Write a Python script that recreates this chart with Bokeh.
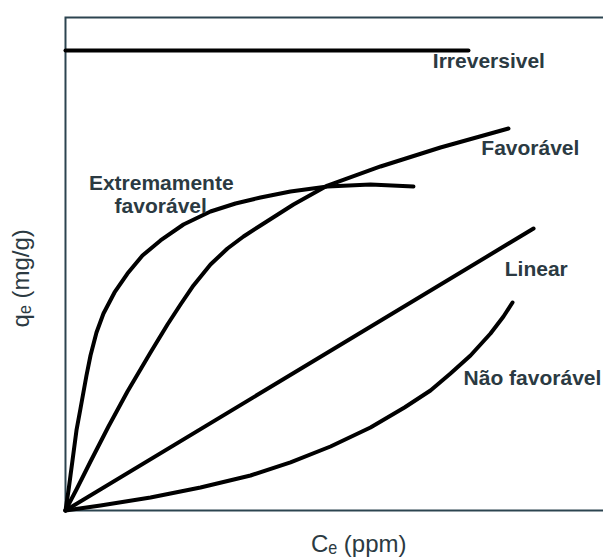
import math
from bokeh.plotting import figure
from bokeh.models import ColumnDataSource, Range1d
from bokeh.core.properties import value
from bokeh.embed import file_html
from bokeh.resources import INLINE

# ---- axis domain (Ce and qe in arbitrary units) ----
x_min, x_max = 0.0, 100.0
y_min, y_max = 0.0, 100.0

# ---- data ----
irrev_x = [0.0, 74.9]
irrev_y = [93.3, 93.3]

ext_x = [0.0, 0.56, 0.93, 1.30, 2.04, 2.79, 3.90, 4.65, 5.76, 7.06, 9.11, 11.52, 14.31,
         17.66, 21.93, 26.95, 31.60, 36.25, 41.82, 48.70, 56.69, 64.68]
ext_y = [0.0, 4.06, 7.10, 10.14, 16.23, 20.69, 27.38, 31.44, 36.11, 39.96, 44.22, 48.07, 51.72,
         54.77, 58.01, 60.65, 62.27, 63.49, 64.71, 65.72, 66.13, 65.72]

fav_x = [0.0, 2.04, 4.65, 7.99, 11.52, 15.80, 18.96, 21.38, 23.79, 26.95, 30.11, 33.09,
         36.25, 42.38, 48.70, 58.55, 69.70, 82.34]
fav_y = [0.0, 4.26, 9.94, 17.04, 24.14, 32.05, 37.73, 41.78, 45.64, 49.90, 53.14, 55.58,
         57.81, 62.07, 65.92, 69.78, 73.63, 77.48]

lin_x = [0.0, 87.0]
lin_y = [0.0, 57.2]

naof_x = [0.0, 6.51, 15.80, 25.09, 34.39, 41.82, 49.26, 56.69, 63.01, 67.84, 71.56, 75.28,
          79.00, 81.41, 83.09]
naof_y = [0.0, 1.01, 2.64, 4.67, 7.10, 9.74, 12.98, 16.84, 20.89, 24.34, 27.79, 31.44,
          35.90, 39.35, 42.19]

labels = ["Irreversivel", "Favorável", "Linear", "Não favorável", "Extremamente", "favorável"]
label_x = [78.7, 86.4, 87.5, 86.8, 17.8, 17.7]
label_y = [91.3, 73.6, 49.1, 27.0, 66.5, 61.9]

x_title = "Cₑ (ppm)"
y_title = "qₑ (mg/g)"
x_title_pos = (54.5, -6.7)
y_title_pos = (-8.4, 47.1)

TEXT_COLOR = "#2b3a42"
FRAME_COLOR = "#2c4450"

p = figure(width=603, height=558, x_range=Range1d(-12.08, 100.0), y_range=Range1d(-9.74, 103.45),
           min_border=0, toolbar_location=None, output_backend="svg",
           x_axis_location=None, y_axis_location=None)
p.grid.visible = False
p.outline_line_color = None
p.background_fill_color = "white"
p.border_fill_color = "white"

# frame (left, bottom and top edges of the axis domain)
p.line([x_max, x_min, x_min, x_max], [y_max, y_max, y_min, y_min],
       line_color=FRAME_COLOR, line_width=2, line_join="miter")

for xs, ys in [(irrev_x, irrev_y), (ext_x, ext_y), (fav_x, fav_y), (lin_x, lin_y), (naof_x, naof_y)]:
    p.line(xs, ys, line_color="black", line_width=4, line_cap="round", line_join="round")

src = ColumnDataSource(dict(x=label_x, y=label_y, t=labels))
p.text(x="x", y="y", text="t", source=src, text_align="center", text_baseline="middle",
       text_font=value("Liberation Sans"), text_font_style="bold", text_font_size="21px",
       text_color=TEXT_COLOR)

p.text(x=[x_title_pos[0]], y=[x_title_pos[1]], text=[x_title], text_align="center",
       text_baseline="middle", text_font=value("Liberation Sans"), text_font_size="24px",
       text_color=TEXT_COLOR)
p.text(x=[y_title_pos[0]], y=[y_title_pos[1]], text=[y_title], text_align="center",
       text_baseline="middle", angle=math.pi / 2, text_font=value("Liberation Sans"),
       text_font_size="24px", text_color=TEXT_COLOR)

open("out.html", "w").write(file_html(p, INLINE))
